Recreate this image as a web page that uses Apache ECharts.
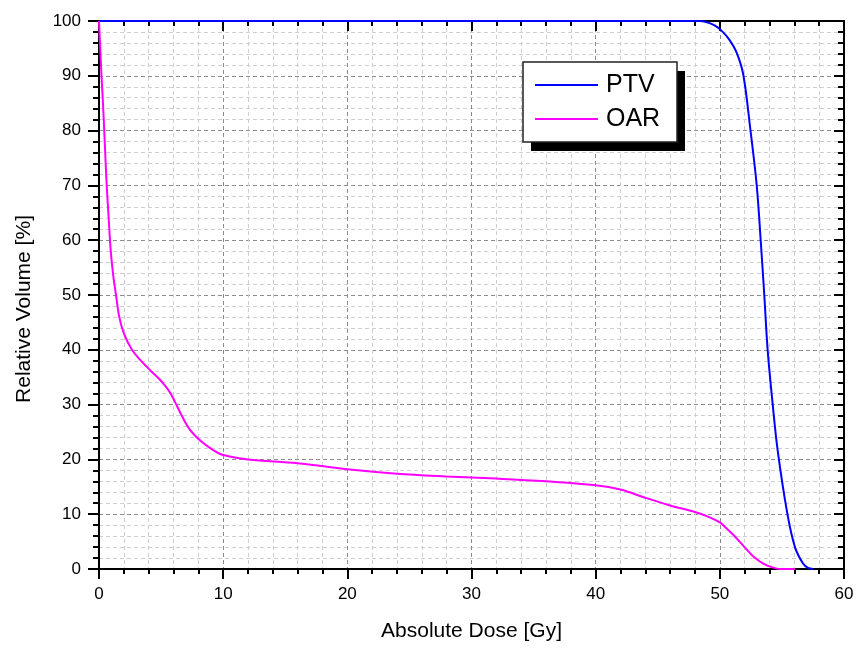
<!DOCTYPE html>
<html>
<head>
<meta charset="utf-8">
<script src="https://cdn.jsdelivr.net/npm/echarts@6/dist/echarts.min.js"></script>
<style>
  html, body { margin: 0; padding: 0; background: #fff; }
  #chart { width: 857px; height: 651px; }
</style>
</head>
<body>
<div id="chart"></div>
<script>
// Dose-volume histogram: PTV and OAR
const ptvDose   = [0, 10, 20, 30, 40, 48.4, 49.5, 50.15, 50.76, 51.36, 51.89, 52.47, 52.97, 53.29, 53.58, 53.85, 54.26, 54.66, 55.43, 56.05, 56.7, 57.1, 57.5];
const ptvVolume = [100, 100, 100, 100, 100, 100, 99.3, 98.2, 96.6, 94.2, 90.2, 80, 70, 60, 50, 40, 30, 21.6, 10.2, 4, 1, 0.2, 0];

const oarDose   = [0, 0.1, 0.2, 0.32, 0.48, 0.62, 0.78, 0.94, 1.15, 1.37, 1.63, 2.0, 2.63, 3.3, 4.24, 4.8, 5.3, 5.72, 6.12, 6.66, 7.33, 8.27, 9.2, 10, 12, 16, 20, 24, 28, 32, 36, 40, 42, 44, 46, 48, 49, 50, 50.5, 51.1, 52.03, 52.7, 53.5, 54.3, 54.8, 56.05];
const oarVolume = [100, 95, 90, 85, 77, 70, 64, 58.2, 53.5, 50, 46, 43, 40.1, 38.2, 36, 34.8, 33.5, 32.2, 30.5, 28.0, 25.4, 23.2, 21.7, 20.8, 20, 19.3, 18.2, 17.4, 16.9, 16.5, 16.0, 15.3, 14.5, 13.0, 11.6, 10.4, 9.6, 8.5, 7.5, 6.2, 3.9, 2.3, 1.0, 0.25, 0, 0];

const seriesNames = ['PTV', 'OAR'];
const seriesColors = ['#0000ff', '#ff00ff'];
const xTicks = { min: 0, max: 60, interval: 10 };
const yTicks = { min: 0, max: 100, interval: 10 };

const FONT = "'Liberation Sans', Arial, sans-serif";
const pairs = (xs, ys) => xs.map((x, i) => [x, ys[i]]);

const majorGrid = { show: true, lineStyle: { color: '#8c8c8c', width: 1, type: [4, 3] } };
const minorGrid = { show: true, lineStyle: { color: '#cfcfcf', width: 1, type: [4, 3] } };
const axisLine = { show: true, onZero: false, lineStyle: { color: '#000', width: 2 } };

// legend frame with a hard drop shadow
const LEG = { x: 523, y: 62, w: 154, h: 80, shadow: 8 };

const chart = echarts.init(document.getElementById('chart'), null, { renderer: 'canvas' });

chart.setOption({
  backgroundColor: '#fff',
  animation: false,
  grid: { left: 99, right: 13, top: 21, bottom: 82, containLabel: false },
  graphic: [
    {
      type: 'rect', z: 3, silent: true,
      shape: { x: LEG.x + LEG.shadow, y: LEG.y + LEG.shadow + 1, width: LEG.w, height: LEG.h },
      style: { fill: '#000' }
    },
    {
      type: 'rect', z: 3, silent: true,
      shape: { x: LEG.x, y: LEG.y, width: LEG.w, height: LEG.h },
      style: { fill: '#fff', stroke: '#222', lineWidth: 1.5 }
    }
  ],
  legend: {
    z: 5,
    orient: 'vertical',
    left: LEG.x,
    top: LEG.y,
    data: seriesNames.map((n, i) => ({ name: n, icon: 'rect', itemStyle: { color: seriesColors[i], borderWidth: 0 } })),
    itemWidth: 63,
    itemHeight: 2,
    itemGap: 8,
    padding: [10, 17, 10, 12],
    textStyle: { fontFamily: FONT, fontSize: 25, color: '#000', lineHeight: 26, padding: [0, 0, 0, 3] }
  },
  xAxis: [
    {
      type: 'value', position: 'bottom',
      min: xTicks.min, max: xTicks.max, interval: xTicks.interval,
      name: 'Absolute Dose [Gy]', nameLocation: 'middle', nameGap: 52,
      nameTextStyle: { fontFamily: FONT, fontSize: 21, color: '#000' },
      axisLine: axisLine,
      axisTick: { show: true, inside: false, length: 10, lineStyle: { color: '#000', width: 2 } },
      minorTick: { show: true, splitNumber: 5, length: 5, lineStyle: { color: '#000', width: 2 } },
      axisLabel: { fontFamily: FONT, fontSize: 17, color: '#000', margin: 17 },
      splitLine: majorGrid,
      minorSplitLine: minorGrid
    },
    {
      type: 'value', position: 'top',
      min: xTicks.min, max: xTicks.max, interval: xTicks.interval,
      axisLine: axisLine,
      axisTick: { show: true, inside: true, length: 10, lineStyle: { color: '#000', width: 2 } },
      minorTick: { show: true, splitNumber: 5, length: 5, lineStyle: { color: '#000', width: 2 } },
      axisLabel: { show: false },
      splitLine: { show: false }
    }
  ],
  yAxis: [
    {
      type: 'value', position: 'left',
      min: yTicks.min, max: yTicks.max, interval: yTicks.interval,
      name: 'Relative Volume [%]', nameLocation: 'middle', nameGap: 64,
      nameTextStyle: { fontFamily: FONT, fontSize: 21, color: '#000', padding: [0, 28, 0, 0] },
      axisLine: axisLine,
      axisTick: { show: true, inside: false, length: 11, lineStyle: { color: '#000', width: 2 } },
      minorTick: { show: true, splitNumber: 5, length: 6, lineStyle: { color: '#000', width: 2 } },
      axisLabel: { fontFamily: FONT, fontSize: 17, color: '#000', margin: 18 },
      splitLine: majorGrid,
      minorSplitLine: minorGrid
    },
    {
      type: 'value', position: 'right',
      min: yTicks.min, max: yTicks.max, interval: yTicks.interval,
      axisLine: axisLine,
      axisTick: { show: true, inside: true, length: 10, lineStyle: { color: '#000', width: 2 } },
      minorTick: { show: true, splitNumber: 5, length: 6, lineStyle: { color: '#000', width: 2 } },
      axisLabel: { show: false },
      splitLine: { show: false }
    }
  ],
  series: [
    {
      name: seriesNames[0], type: 'line', xAxisIndex: 0, yAxisIndex: 0,
      data: pairs(ptvDose, ptvVolume),
      symbol: 'none', smooth: 0.35, clip: false,
      lineStyle: { color: seriesColors[0], width: 2 },
      itemStyle: { color: seriesColors[0] }
    },
    {
      name: seriesNames[1], type: 'line', xAxisIndex: 0, yAxisIndex: 0,
      data: pairs(oarDose, oarVolume),
      symbol: 'none', smooth: 0.35, clip: false,
      lineStyle: { color: seriesColors[1], width: 2 },
      itemStyle: { color: seriesColors[1] }
    }
  ]
});
</script>
</body>
</html>
